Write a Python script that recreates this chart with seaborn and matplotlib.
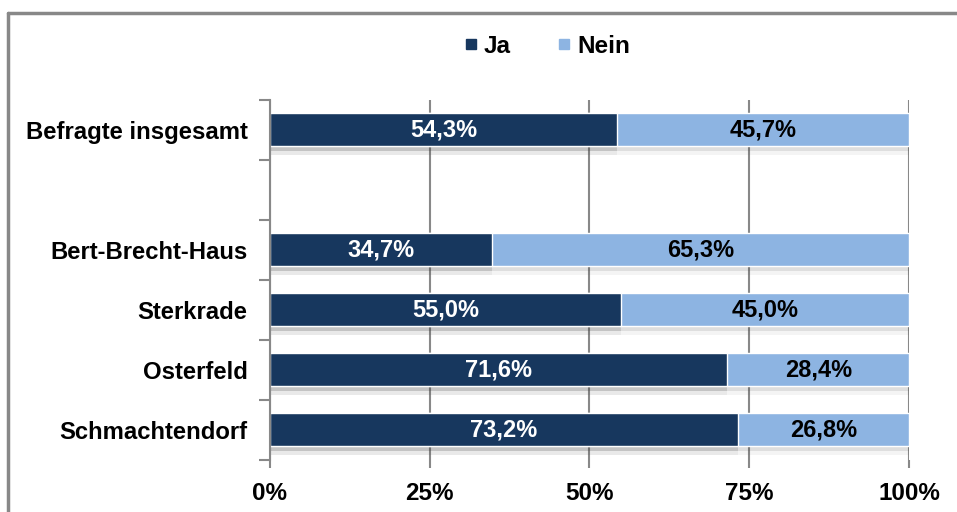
import pandas as pd
import seaborn as sns
import matplotlib.pyplot as plt
from matplotlib.lines import Line2D
import matplotlib.patheffects as pe

# Data
categories = ['Befragte insgesamt', 'Bert-Brecht-Haus', 'Sterkrade', 'Osterfeld', 'Schmachtendorf']
ja = [54.3, 34.7, 55.0, 71.6, 73.2]
nein = [45.7, 65.3, 45.0, 28.4, 26.8]
# blank slot between the total and the single sites
order = ['Befragte insgesamt', ' ', 'Bert-Brecht-Haus', 'Sterkrade', 'Osterfeld', 'Schmachtendorf']

col_ja = '#17375E'
col_nein = '#8DB4E2'

df = pd.DataFrame({'cat': categories, 'Ja': ja, 'Nein': nein})
df['total'] = df['Ja'] + df['Nein']

sns.set_theme(style='white')
plt.rcParams['font.family'] = ['Liberation Sans', 'DejaVu Sans']
plt.rcParams['font.weight'] = 'bold'
plt.rcParams['text.color'] = 'black'
plt.rcParams['xtick.color'] = 'black'
plt.rcParams['ytick.color'] = 'black'

fig = plt.figure(figsize=(9.57, 5.12), dpi=100)
ax = fig.add_axes([0.2821, 0.1016, 0.6677, 0.7031])

shadow = [pe.SimplePatchShadow(offset=(0, -3), alpha=0.12, shadow_rgbFace='#444444'),
          pe.SimplePatchShadow(offset=(0, -6), alpha=0.06, shadow_rgbFace='#444444'),
          pe.Normal()]

# stacked: full bar in light blue, then the Ja part on top
sns.barplot(data=df, x='total', y='cat', order=order, color=col_nein, width=0.55,
            orient='h', ax=ax, saturation=1, edgecolor='white', linewidth=1)
sns.barplot(data=df, x='Ja', y='cat', order=order, color=col_ja, width=0.55,
            orient='h', ax=ax, saturation=1, edgecolor='white', linewidth=1)
for p in ax.patches:
    p.set_path_effects(shadow)

# value labels
for i, row in df.iterrows():
    y = order.index(row['cat'])
    ax.text(row['Ja'] / 2, y, f"{row['Ja']:.1f}%".replace('.', ','), color='white',
            ha='center', va='center', fontsize=17, fontweight='bold')
    ax.text(row['Ja'] + row['Nein'] / 2, y, f"{row['Nein']:.1f}%".replace('.', ','), color='black',
            ha='center', va='center', fontsize=17, fontweight='bold')

ax.set_xlim(0, 100)
ax.set_ylim(5.5, -0.5)
ax.set_xticks([0, 25, 50, 75, 100])
ax.set_xticklabels(['0%', '25%', '50%', '75%', '100%'], fontsize=17.5, fontweight='bold')
ax.set_yticks([i - 0.5 for i in range(7)], minor=True)
ax.set_yticks(range(6))
ax.set_yticklabels(order, fontsize=17.2, fontweight='bold')
ax.tick_params(axis='y', which='major', left=False, length=0, pad=16)
ax.tick_params(axis='y', which='minor', left=True, length=8, width=1.5, color='#888888', direction='out')
ax.tick_params(axis='x', bottom=True, length=6, width=1.5, color='#888888', labelcolor='black',
               direction='out', pad=10)
ax.set_xlabel('')
ax.set_ylabel('')

ax.grid(axis='x', color='#888888', linewidth=1.5)
ax.set_axisbelow(True)
for s in ['top', 'right', 'bottom']:
    ax.spines[s].set_visible(False)
ax.spines['left'].set_color('#888888')
ax.spines['left'].set_linewidth(1.5)

# legend
handles = [Line2D([], [], marker='s', linestyle='', color=col_ja, markersize=6.5),
           Line2D([], [], marker='s', linestyle='', color=col_nein, markersize=6.5)]
fig.legend(handles, ['Ja', 'Nein'], loc='center', bbox_to_anchor=(0.5716, 0.91), ncol=2,
           frameon=False, prop={'weight': 'bold', 'size': 17.5}, handletextpad=0.25,
           columnspacing=1.9, handlelength=0.6)

# chart frame
fig.add_artist(Line2D([8 / 957, 1], [1 - 13 / 512, 1 - 13 / 512], color='#888888', linewidth=2.5,
                      transform=fig.transFigure))
fig.add_artist(Line2D([8 / 957, 8 / 957], [0, 1 - 13 / 512], color='#888888', linewidth=2.5,
                      transform=fig.transFigure))

fig.savefig('out.png', dpi=100)
